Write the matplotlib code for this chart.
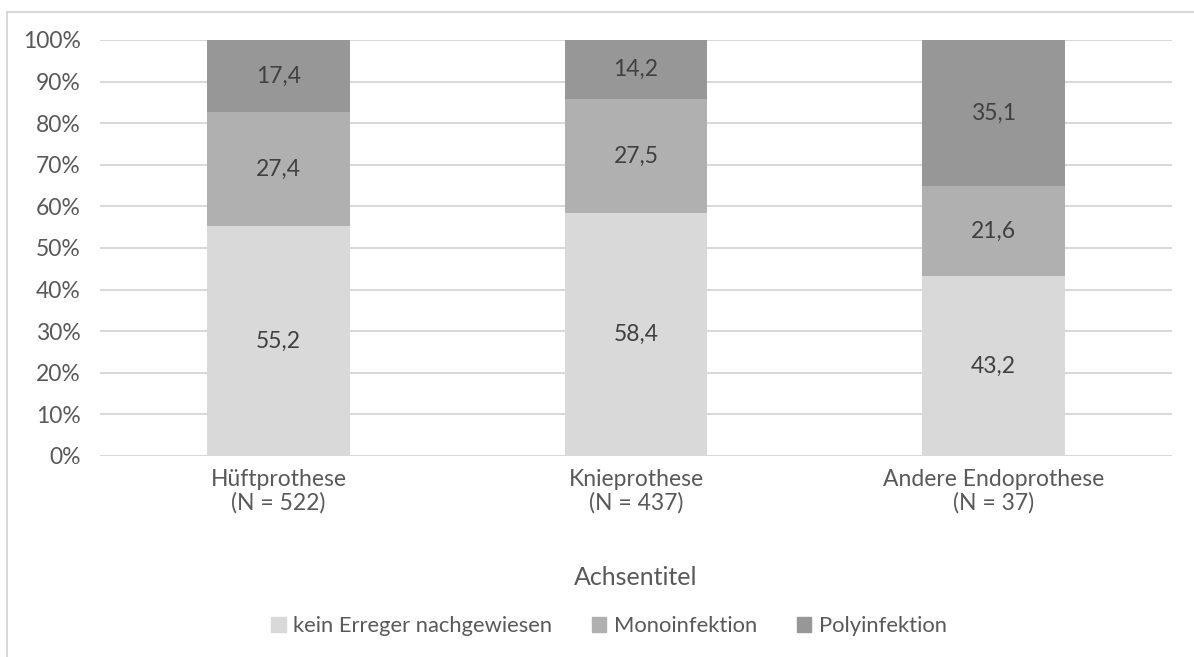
import matplotlib.pyplot as plt
import matplotlib.patches as mpatches
import numpy as np

plt.rcParams['font.family'] = ['Lato', 'DejaVu Sans']

kategorien = ['Hüftprothese\n(N = 522)', 'Knieprothese\n(N = 437)', 'Andere Endoprothese\n(N = 37)']
serien = ['kein Erreger nachgewiesen', 'Monoinfektion', 'Polyinfektion']
kein_erreger = [55.2, 58.4, 43.2]
mono = [27.4, 27.5, 21.6]
poly = [17.4, 14.2, 35.1]
farben = ['#d9d9d9', '#b0b0b0', '#979797']

werte = np.array([kein_erreger, mono, poly])
anteile = werte / werte.sum(axis=0) * 100  # 100%-gestapelt

fig = plt.figure(figsize=(11.94, 6.57), dpi=100)
ax = fig.add_axes([100/1194, 1 - 456/657, 1072/1194, 416/657])

x = np.arange(len(kategorien))
unten = np.zeros(len(kategorien))
for i in range(len(serien)):
    ax.bar(x, anteile[i], 0.4, bottom=unten, color=farben[i], label=serien[i], zorder=3)
    for j in range(len(kategorien)):
        ax.text(x[j], unten[j] + anteile[i][j] / 2, f'{werte[i][j]:.1f}'.replace('.', ','),
                ha='center', va='center', fontsize=16.5, color='#404040', zorder=4)
    unten += anteile[i]

ax.set_xlim(-0.5, 2.5)
ax.set_ylim(0, 100)
ax.set_yticks(np.arange(0, 101, 10))
ax.set_yticklabels([f'{v}%' for v in range(0, 101, 10)])
ax.set_xticks(x)
ax.set_xticklabels(kategorien, linespacing=1.15)
ax.yaxis.grid(True, color='#d9d9d9', linewidth=1.5, zorder=0)
ax.tick_params(axis='both', length=0, labelsize=16.5, labelcolor='#595959')
ax.tick_params(axis='y', pad=14)
ax.tick_params(axis='x', pad=9)
for s in ax.spines.values():
    s.set_visible(False)
ax.set_xlabel('Achsentitel', fontsize=18, color='#595959', labelpad=38)

handles = [mpatches.Patch(color=farben[i], label=serien[i]) for i in range(len(serien))]
fig.legend(handles=handles, loc='center', bbox_to_anchor=(609/1194, 1 - 626/657), ncol=3,
           frameon=False, fontsize=15.8, labelcolor='#595959', handlelength=0.65, handleheight=0.65,
           handletextpad=0.35, columnspacing=1.8)

rahmen = mpatches.Rectangle((6.5/1194, -0.1), 1.2, 1.1 - 11.5/657, transform=fig.transFigure,
                            fill=False, edgecolor='#d9d9d9', linewidth=1.5)
fig.patches.append(rahmen)

plt.savefig('out.png', dpi=100)
